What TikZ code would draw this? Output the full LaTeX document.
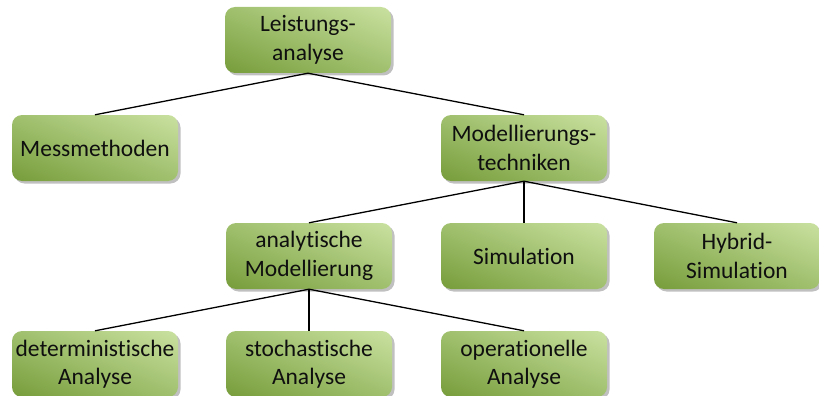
\documentclass[tikz,border=0pt]{standalone}
\usepackage{fontspec}
\setmainfont{Carlito}[Ligatures={NoCommon}]
\usetikzlibrary{shadows,shadings}
\definecolor{boxdark}{RGB}{118,156,58}
\definecolor{boxmid}{RGB}{160,192,110}
\definecolor{boxlight}{RGB}{202,225,160}
\definecolor{boxtext}{RGB}{15,15,15}
\tikzset{
  topic/.style={
    rounded corners=10pt, minimum width=166pt, minimum height=66pt,
    inner sep=2pt, align=center, text=boxtext,
    font=\fontsize{23.5}{28.5}\selectfont,
    lower left=boxdark, upper right=boxlight,
    upper left=boxmid, lower right=boxmid,
    drop shadow={shadow xshift=2.5pt, shadow yshift=-2.5pt,
                 fill=black!45, opacity=0.55}
  },
  link/.style={draw=black, line width=1.3pt}
}
\begin{document}
\begin{tikzpicture}[x=1pt,y=-1pt]
\useasboundingbox (0,0) rectangle (819,396);

% row 1
\node[topic] (la) at (308,40) {Leistungs-\\analyse};
% row 2
\node[topic] (mm) at (95,148) {Messmethoden};
\node[topic] (mt) at (524,148) {Modellierungs-\\techniken};
% row 3
\node[topic] (am) at (309,256) {analytische\\Modellierung};
\node[topic] (si) at (524,256) {Simulation};
\node[topic] (hs) at (737,256) {Hybrid-\\Simulation};
% row 4
\node[topic] (da) at (95,364) {deterministische\\Analyse};
\node[topic] (sa) at (309,364) {stochastische\\Analyse};
\node[topic] (oa) at (524,364) {operationelle\\Analyse};

% tree connectors
\draw[link] (la.south) -- (mm.north);
\draw[link] (la.south) -- (mt.north);
\draw[link] (mt.south) -- (am.north);
\draw[link] (mt.south) -- (si.north);
\draw[link] (mt.south) -- (hs.north);
\draw[link] (am.south) -- (da.north);
\draw[link] (am.south) -- (sa.north);
\draw[link] (am.south) -- (oa.north);
\end{tikzpicture}
\end{document}
